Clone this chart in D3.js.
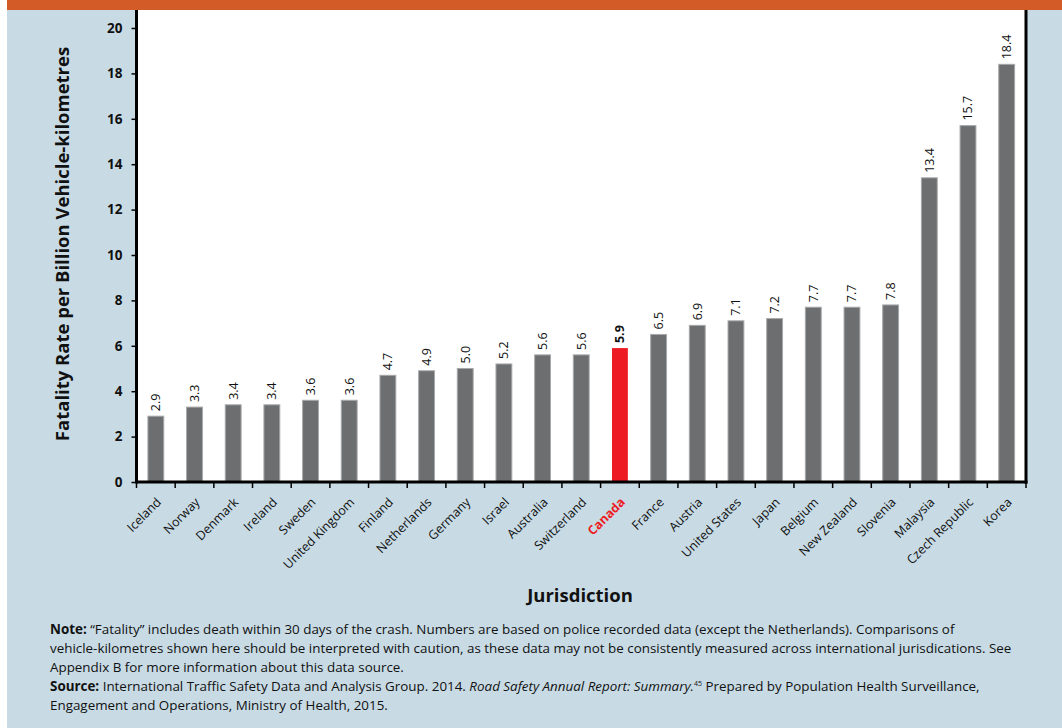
<!DOCTYPE html>
<html><head><meta charset="utf-8">
<script src="https://cdn.jsdelivr.net/npm/d3@7"></script>
<style>
html,body{margin:0;padding:0;background:#fff;}
svg{display:block;font-family:"Open Sans",sans-serif;}
</style></head>
<body>
<svg id="chart" width="1062" height="728"></svg>
<script>
const categories = ["Iceland","Norway","Denmark","Ireland","Sweden","United Kingdom","Finland","Netherlands","Germany","Israel","Australia","Switzerland","Canada","France","Austria","United States","Japan","Belgium","New Zealand","Slovenia","Malaysia","Czech Republic","Korea"];
const values = [2.9,3.3,3.4,3.4,3.6,3.6,4.7,4.9,5.0,5.2,5.6,5.6,5.9,6.5,6.9,7.1,7.2,7.7,7.7,7.8,13.4,15.7,18.4];
const highlight = "Canada";
const yTicks = [0,2,4,6,8,10,12,14,16,18,20];
const yTitle = "Fatality Rate per Billion Vehicle-kilometres";
const xTitle = "Jurisdiction";

const svg = d3.select("#chart");
svg.append("rect").attr("x",7).attr("y",0).attr("width",1055).attr("height",728).attr("fill","#C8DBE5");
svg.append("rect").attr("x",7).attr("y",0).attr("width",1055).attr("height",10).attr("fill","#D35B27");

const L=136.5, R=1026, T=10, B=482;
svg.append("rect").attr("x",L).attr("y",T).attr("width",R-L).attr("height",B-T).attr("fill","#fff");

const x = d3.scaleBand().domain(categories).range([L,R]).paddingInner(0.59).paddingOuter(0.295);
const xb = d3.scaleBand().domain(categories).range([L,R]);
const y = d3.scaleLinear().domain([0,20]).range([B,28]);

const g = svg.append("g");
g.selectAll("rect.bar").data(categories).join("rect")
  .attr("x",d=>x(d)).attr("width",x.bandwidth())
  .attr("y",(d,i)=>y(values[i])).attr("height",(d,i)=>B-y(values[i]))
  .attr("fill",d=>d===highlight?"#ED1C24":"#6D6E70")
  .attr("stroke",d=>d===highlight?"none":"#A7A8AA").attr("stroke-width",1);

g.selectAll("text.val").data(categories).join("text")
  .attr("transform",(d,i)=>`translate(${x(d)+x.bandwidth()/2+4.5},${y(values[i])-5}) rotate(-90)`)
  .attr("font-size",12.5).attr("fill","#111")
  .attr("font-weight",d=>d===highlight?"bold":"normal")
  .text((d,i)=>values[i].toFixed(1));

// y axis
const yAxis = svg.append("g").attr("transform",`translate(${L},0)`)
  .call(d3.axisLeft(y).tickValues(yTicks).tickSize(5).tickPadding(9));
yAxis.select(".domain").remove();
yAxis.selectAll("line").attr("stroke","#000").attr("stroke-width",1.5);
yAxis.selectAll("text").attr("font-size",13.5).attr("font-weight","bold").attr("fill","#111").attr("font-family","Open Sans");

// x axis ticks at band boundaries
const bounds = categories.map(d=>xb(d)).concat([R]);
svg.append("g").selectAll("line").data(bounds).join("line")
  .attr("x1",d=>d).attr("x2",d=>d).attr("y1",B).attr("y2",B+6)
  .attr("stroke","#000").attr("stroke-width",1.5);
svg.append("g").selectAll("text").data(categories).join("text")
  .attr("transform",d=>`translate(${xb(d)+xb.bandwidth()/2+6},${B+21}) rotate(-45)`)
  .attr("text-anchor","end").attr("font-size",12.5)
  .attr("fill",d=>d===highlight?"#ED1C24":"#111")
  .attr("font-weight",d=>d===highlight?"bold":"normal")
  .text(d=>d);

// frame lines
svg.append("line").attr("x1",L).attr("x2",L).attr("y1",T).attr("y2",B+1.5).attr("stroke","#000").attr("stroke-width",3);
svg.append("line").attr("x1",R).attr("x2",R).attr("y1",T).attr("y2",B+1.5).attr("stroke","#000").attr("stroke-width",3);
svg.append("line").attr("x1",L).attr("x2",R+1.5).attr("y1",B).attr("y2",B).attr("stroke","#000").attr("stroke-width",3);

// titles
svg.append("text").attr("transform","translate(69,244) rotate(-90)").attr("text-anchor","middle")
  .attr("font-size",18.5).attr("font-weight","bold").attr("fill","#111").text(yTitle);
svg.append("text").attr("x",580).attr("y",602).attr("text-anchor","middle")
  .attr("font-size",18.5).attr("font-weight","bold").attr("fill","#111").text(xTitle);

// notes
const notes = [
  [["b","Note: "],["n","\u201CFatality\u201D includes death within 30 days of the crash. Numbers are based on police recorded data (except the Netherlands). Comparisons of"]],
  [["n","vehicle-kilometres shown here should be interpreted with caution, as these data may not be consistently measured across international jurisdications. See"]],
  [["n","Appendix B for more information about this data source."]],
  [["b","Source: "],["n","International Traffic Safety Data and Analysis Group. 2014. "],["i","Road Safety Annual Report: Summary."],["s","45"],["n2"," Prepared by Population Health Surveillance,"]],
  [["n","Engagement and Operations, Ministry of Health, 2015."]]
];
const nt = svg.append("g").attr("font-size",13.4).attr("fill","#111");
notes.forEach((line,i)=>{
  const t = nt.append("text").attr("x",50).attr("y",634+i*19);
  line.forEach(([k,s])=>{
    const ts = t.append("tspan").text(s);
    if(k==="b") ts.attr("font-weight","bold");
    if(k==="i") ts.attr("font-style","italic");
    if(k==="s") ts.attr("font-size",7).attr("dy",-5);
    if(k==="n2") ts.attr("dy",5);
  });
});
</script>
</body></html>
